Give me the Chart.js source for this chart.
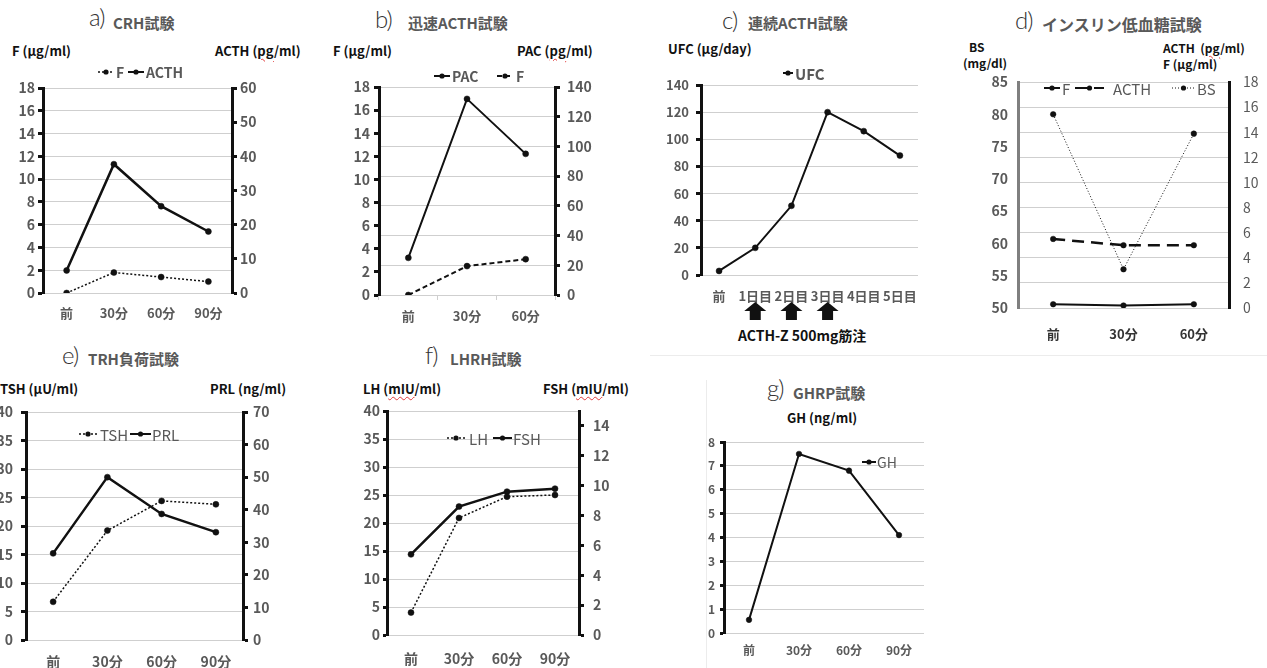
<!DOCTYPE html>
<html lang="ja">
<head>
<meta charset="utf-8">
<script src="https://cdn.jsdelivr.net/npm/chart.js@4.4.1/dist/chart.umd.min.js"></script>
<style>
html, body { margin: 0; padding: 0; background: #fff; }
body { width: 1267px; height: 668px; position: relative; overflow: hidden; font-family: 'Noto Sans CJK JP', sans-serif; }
canvas { position: absolute; }
.t { position: absolute; white-space: nowrap; line-height: 1; }
.no { font-family: Lato, 'DejaVu Sans', sans-serif; font-weight: 300; font-size: 24px; color: #333; letter-spacing: -1px; }
.ttl { font-weight: bold; font-size: 15px; color: #595959; }
.ax { font-weight: bold; font-size: 13px; color: #111; }
.sm { font-size: 12px; }
.sp { text-decoration: underline wavy #e03a3a; text-decoration-thickness: 1px; text-underline-offset: 2px; }
.rule { position: absolute; background: #ececec; }
</style>
</head>
<body>
<div class="rule" style="left:650px; top:355px; width:617px; height:1px;"></div>
<div class="rule" style="left:706px; top:380px; width:1px; height:288px;"></div>

<!-- titles -->
<div class="t no" style="left:89px; top:5px;">a)</div>
<div class="t ttl" style="left:113px; top:15px;">CRH試験</div>
<div class="t no" style="left:375px; top:7px;">b)</div>
<div class="t ttl" style="left:408px; top:15px;">迅速ACTH試験</div>
<div class="t no" style="left:722px; top:8px;">c)</div>
<div class="t ttl" style="left:748px; top:15px;">連続ACTH試験</div>
<div class="t no" style="left:1015px; top:8px;">d)</div>
<div class="t ttl" style="left:1042px; top:16px; font-size:16px;">インスリン低血糖試験</div>
<div class="t no" style="left:62px; top:343px;">e)</div>
<div class="t ttl" style="left:88px; top:351px;">TRH負荷試験</div>
<div class="t no" style="left:425px; top:343px;">f)</div>
<div class="t ttl" style="left:450px; top:351px;">LHRH試験</div>
<div class="t no" style="left:767px; top:376px;">g)</div>
<div class="t ttl" style="left:793px; top:385px;">GHRP試験</div>

<!-- axis titles -->
<div class="t ax" style="left:12px; top:44px;">F (μg/ml)</div>
<div class="t ax" style="left:215px; top:44px;">ACTH (<span class="sp">pg</span>/ml)</div>
<div class="t ax" style="left:333px; top:44px;">F (μg/ml)</div>
<div class="t ax" style="left:517px; top:44px;">PAC (<span class="sp">pg</span>/ml)</div>
<div class="t ax" style="left:668px; top:42px;">UFC (μg/day)</div>
<div class="t ax sm" style="left:969px; top:41px;">BS</div>
<div class="t ax sm" style="left:963px; top:57px;">(mg/dl)</div>
<div class="t ax sm" style="left:1163px; top:42px;">ACTH&nbsp;&nbsp;(<span class="sp">pg</span>/ml)</div>
<div class="t ax sm" style="left:1163px; top:58px;">F (μg/ml)</div>
<div class="t ax" style="left:0px; top:382px;">TSH (μU/ml)</div>
<div class="t ax" style="left:210px; top:382px;">PRL (ng/ml)</div>
<div class="t ax" style="left:363px; top:382px;">LH (<span class="sp">mIU</span>/ml)</div>
<div class="t ax" style="left:543px; top:382px;">FSH (<span class="sp">mIU</span>/ml)</div>
<div class="t ax" style="left:787px; top:411px;">GH (ng/ml)</div>
<div class="t ax" style="left:738px; top:328px; font-size:14px;">ACTH-Z 500mg筋注</div>

<canvas id="chartA"></canvas>
<canvas id="chartB"></canvas>
<canvas id="chartC"></canvas>
<canvas id="chartD"></canvas>
<canvas id="chartE"></canvas>
<canvas id="chartF"></canvas>
<canvas id="chartG"></canvas>

<script>
const INK = "#111111";
const GRAY = "#595959";
const GRID = "#cfcfcf";
const FONT = "'Noto Sans CJK JP', sans-serif";

// a) CRH試験
const catsA = ["前", "30分", "60分", "90分"];
const fA = [0, 1.8, 1.4, 1.0];
const acthA = [6.6, 37.7, 25.4, 18];
const yA = [0, 18, 2];
const y2A = [0, 60, 10];

// b) 迅速ACTH試験
const catsB = ["前", "30分", "60分"];
const pacB = [25, 132, 95];
const fB = [0, 2.5, 3.1];
const yB = [0, 18, 2];
const y2B = [0, 140, 20];

// c) 連続ACTH試験
const catsC = ["前", "1日目", "2日目", "3日目", "4日目", "5日目"];
const ufcC = [3, 20, 51, 120, 106, 88];
const arrowDaysC = ["1日目", "2日目", "3日目"];
const yC = [0, 140, 20];

// d) インスリン低血糖試験
const catsD = ["前", "30分", "60分"];
const fD = [0.3, 0.2, 0.3];
const acthD = [5.5, 5.0, 5.0];
const bsD = [80, 56, 77];
const yD = [50, 85, 5];
const y2D = [0, 18, 2];

// e) TRH負荷試験
const catsE = ["前", "30分", "60分", "90分"];
const tshE = [6.7, 19.2, 24.4, 23.8];
const prlE = [26.6, 50, 38.7, 33.1];
const yE = [0, 40, 5];
const y2E = [0, 70, 10];

// f) LHRH試験
const catsF = ["前", "30分", "60分", "90分"];
const lhF = [4.0, 20.9, 24.7, 25.0];
const fshF = [5.4, 8.6, 9.6, 9.8];
const yF = [0, 40, 5];
const y2F = [0, 15, 2];

// g) GHRP試験
const catsG = ["前", "30分", "60分", "90分"];
const ghG = [0.55, 7.5, 6.8, 4.1];
const yG = [0, 8, 1];

// legend drawn as line sample + dot + label, like the spreadsheet legend
const miniLegend = {
  id: "miniLegend",
  afterDatasetsDraw(chart, args, o) {
    if (!o || !o.items) return;
    const ctx = chart.ctx;
    const y = o.y - o.oy;
    ctx.save();
    ctx.font = o.font;
    ctx.textBaseline = "middle";
    o.items.forEach(it => {
      const ds = chart.data.datasets[it.ds];
      const x0 = it.x0 - o.ox, x1 = it.x1 - o.ox;
      ctx.strokeStyle = INK;
      ctx.lineWidth = Math.min(ds.borderWidth, 2);
      ctx.setLineDash(ds.borderDash || []);
      ctx.beginPath(); ctx.moveTo(x0, y); ctx.lineTo(x1, y); ctx.stroke();
      ctx.setLineDash([]);
      ctx.fillStyle = INK;
      ctx.beginPath(); ctx.arc((x0 + x1) / 2, y, 2.6, 0, 2 * Math.PI); ctx.fill();
      ctx.fillStyle = GRAY;
      ctx.fillText(ds.label, it.tx - o.ox, y + 1);
    });
    ctx.restore();
  }
};

// injection arrows under the x labels of chart c
const arrowMarks = {
  id: "arrowMarks",
  afterDraw(chart, args, o) {
    if (!o || !o.cats) return;
    const xs = chart.scales.x, ctx = chart.ctx;
    const labels = chart.data.labels;
    const t = o.top - o.oy, b = o.bottom - o.oy, m = t + 9;
    ctx.save();
    ctx.fillStyle = INK;
    o.cats.forEach(c => {
      const cx = xs.getPixelForValue(labels.indexOf(c));
      ctx.beginPath();
      ctx.moveTo(cx, t);
      ctx.lineTo(cx + 11, m); ctx.lineTo(cx + 5.5, m); ctx.lineTo(cx + 5.5, b);
      ctx.lineTo(cx - 5.5, b); ctx.lineTo(cx - 5.5, m); ctx.lineTo(cx - 11, m);
      ctx.closePath();
      ctx.fill();
    });
    ctx.restore();
  }
};

function series(label, data, axis, w, dash, r) {
  return {
    label, data, yAxisID: axis,
    borderColor: INK, backgroundColor: INK, borderWidth: w, borderDash: dash,
    pointRadius: r, pointHoverRadius: r, pointBackgroundColor: INK,
    pointBorderColor: INK, pointBorderWidth: 0.5, tension: 0, fill: false
  };
}

function yAxis(pos, range, o) {
  return {
    type: "linear", position: pos, min: range[0], max: range[1],
    ticks: {
      stepSize: range[2], padding: o.pad, color: GRAY, includeBounds: false,
      font: { family: FONT, size: o.size || 14, weight: o.weight || "bold" }
    },
    grid: {
      drawOnChartArea: !!o.grid, color: GRID, lineWidth: 1,
      drawTicks: !!o.tl, tickLength: o.tl || 0, tickColor: INK, tickWidth: 3
    },
    border: { display: true, color: o.line || INK, width: 3 },
    afterFit: s => { s.width = 50; }
  };
}

function xAxis(pad, o) {
  o = o || {};
  return {
    type: "category", offset: true,
    ticks: {
      padding: pad, color: o.color || GRAY, autoSkip: false, maxRotation: 0,
      font: { family: FONT, size: o.size || 13, weight: "bold" }
    },
    grid: {
      display: !!o.tl, drawOnChartArea: false, drawTicks: !!o.tl,
      tickLength: o.tl || 0, color: GRID, offset: true
    },
    border: { display: false },
    afterFit: s => { s.height = 40; }
  };
}

// box = [left, right, top, bottom] of the plot area on the page
function makeChart(id, box, labels, datasets, scales, legend, arrows, extra) {
  const cv = document.getElementById(id);
  const left = box[0] - 50, top = box[2] - 40;
  const bottomPad = extra || 0;
  cv.width = box[1] - box[0] + 100;
  cv.height = box[3] - box[2] + 80 + bottomPad;
  cv.style.left = left + "px";
  cv.style.top = top + "px";
  legend.ox = left; legend.oy = top;
  if (arrows) { arrows.ox = left; arrows.oy = top; }
  return new Chart(cv, {
    type: "line",
    data: { labels, datasets },
    options: {
      responsive: false, animation: false, events: [],
      layout: { padding: { top: 40, bottom: bottomPad, left: 0, right: scales.y2 ? 0 : 50 } },
      scales,
      plugins: {
        legend: { display: false }, tooltip: { enabled: false },
        miniLegend: legend, arrowMarks: arrows || {}
      }
    },
    plugins: [miniLegend, arrowMarks]
  });
}

const boldLegend = "bold 14px " + FONT;
const plainLegend = "15px " + FONT;

// a
makeChart("chartA", [43, 232, 88, 293], catsA,
  [series("F", fA, "y", 1.5, [2, 2], 3), series("ACTH", acthA, "y2", 2.5, [], 3)],
  { x: xAxis(12), y: yAxis("left", yA, { pad: 3, tl: 5, grid: true }), y2: yAxis("right", y2A, { pad: 3, tl: 5 }) },
  { y: 72, font: boldLegend, items: [{ ds: 0, x0: 98, x1: 114, tx: 116 }, { ds: 1, x0: 128, x1: 144, tx: 146 }] });

// b
makeChart("chartB", [379, 555, 87, 295], catsB,
  [series("PAC", pacB, "y2", 2, [], 3), series("F", fB, "y", 2, [5, 3], 3)],
  { x: xAxis(8, { tl: 5 }), y: yAxis("left", yB, { pad: 4, tl: 5 }), y2: yAxis("right", y2B, { pad: 7, tl: 5, grid: true }) },
  { y: 76, font: boldLegend, items: [{ ds: 0, x0: 434, x1: 450, tx: 452 }, { ds: 1, x0: 497, x1: 513, tx: 516 }] });

// c
makeChart("chartC", [701, 918, 85, 275], catsC,
  [series("UFC", ufcC, "y", 2, [], 3)],
  { x: xAxis(13), y: yAxis("left", yC, { pad: 7, tl: 5, grid: true, size: 13 }) },
  { y: 73, font: "bold 15px " + FONT, items: [{ ds: 0, x0: 783, x1: 793, tx: 795 }] },
  { cats: arrowDaysC, top: 302, bottom: 320 }, 12);

// d
makeChart("chartD", [1018, 1229, 82, 308], catsD,
  [series("F", fD, "y2", 2, [], 2.8), series("ACTH", acthD, "y2", 2.5, [12, 7], 2.8), series("BS", bsD, "y", 1, [1, 2], 2.8)],
  { x: xAxis(18, { color: "#333" }), y: yAxis("left", yD, { pad: 10, line: "#7f7f7f" }), y2: yAxis("right", y2D, { pad: 14, grid: true, weight: "normal" }) },
  { y: 88, font: plainLegend, items: [{ ds: 0, x0: 1044, x1: 1060, tx: 1062 }, { ds: 1, x0: 1075, x1: 1104, tx: 1113 }, { ds: 2, x0: 1172, x1: 1195, tx: 1197 }] });

// e
makeChart("chartE", [26, 243, 412, 640], catsE,
  [series("TSH", tshE, "y", 1.5, [2, 2], 3), series("PRL", prlE, "y2", 2.5, [], 3)],
  { x: xAxis(13, { size: 14 }), y: yAxis("left", yE, { pad: 8, tl: 5, grid: true }), y2: yAxis("right", y2E, { pad: 5, tl: 5 }) },
  { y: 434, font: plainLegend, items: [{ ds: 0, x0: 79, x1: 97, tx: 100 }, { ds: 1, x0: 130, x1: 151, tx: 152 }] });

// f
makeChart("chartF", [387, 579, 411, 635], catsF,
  [series("LH", lhF, "y", 1.5, [2, 2], 3), series("FSH", fshF, "y2", 2.5, [], 3)],
  { x: xAxis(15, { size: 14 }), y: yAxis("left", yF, { pad: 3, tl: 4, grid: true }), y2: yAxis("right", y2F, { pad: 9, tl: 5 }) },
  { y: 438, font: plainLegend, items: [{ ds: 0, x0: 447, x1: 465, tx: 469 }, { ds: 1, x0: 493, x1: 512, tx: 513 }] });

// g
makeChart("chartG", [724, 924, 442, 633], catsG,
  [series("GH", ghG, "y", 2, [], 2.8)],
  { x: xAxis(10, { size: 12 }), y: yAxis("left", yG, { pad: 5, tl: 4, grid: true, size: 12 }) },
  { y: 462, font: "14px " + FONT, items: [{ ds: 0, x0: 862, x1: 876, tx: 877 }] });
</script>
</body>
</html>
